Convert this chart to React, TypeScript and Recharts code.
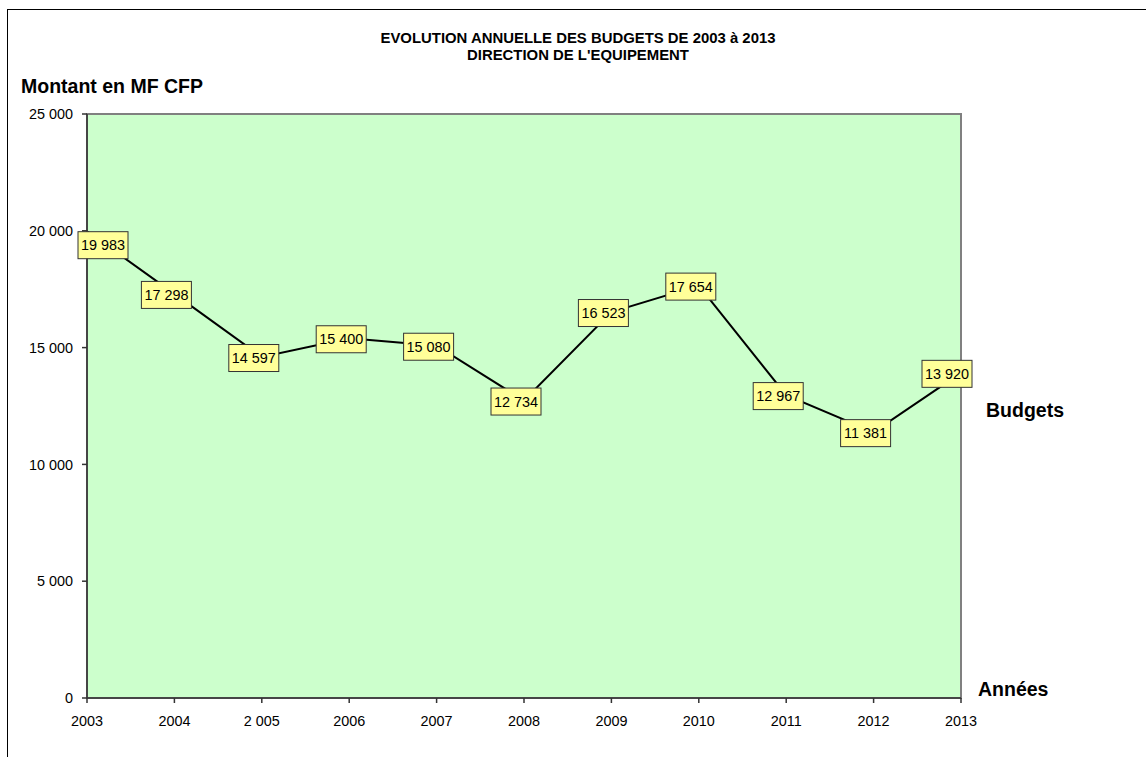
import {
  CartesianGrid,
  LabelList,
  Line,
  LineChart,
  ReferenceArea,
  XAxis,
  YAxis,
} from "recharts";

const years = ["2003", "2004", "2 005", "2006", "2007", "2008", "2009", "2010", "2011", "2012", "2013"];
const budgets = [19983, 17298, 14597, 15400, 15080, 12734, 16523, 17654, 12967, 11381, 13920];
const yTicks = [0, 5000, 10000, 15000, 20000, 25000];

const data = years.map((year, i) => ({ year, budget: budgets[i] }));

const FONT = '"Liberation Sans", Arial, sans-serif';

const fmt = (v: number) => String(v).replace(/\B(?=(\d{3})+(?!\d))/g, " ");

// plot edges, the label boxes may overhang them a little
const PLOT_LEFT = 87;
const PLOT_RIGHT = 961;

function BudgetLabel(props: any) {
  const { x, y, value, index } = props;
  const w = 50;
  const h = 27;
  let bx = x - w / 2 - 8;
  bx = Math.max(PLOT_LEFT - 9, Math.min(bx, PLOT_RIGHT + 11 - w));
  const by = y - h / 2 + 1 + (index === 0 ? 13 : 0);
  return (
    <g>
      <rect x={bx} y={by} width={w} height={h} fill="#FFFF99" stroke="#333" strokeWidth={1} />
      <text
        x={bx + w / 2}
        y={by + h / 2}
        textAnchor="middle"
        dominantBaseline="central"
        fontSize={14.4}
        fontFamily={FONT}
        fill="#000"
      >
        {fmt(value)}
      </text>
    </g>
  );
}

const abs = (left: number, top: number, size: number, bold = true) => ({
  position: "absolute" as const,
  left,
  top,
  fontSize: size,
  fontWeight: bold ? 700 : 400,
  fontFamily: FONT,
  lineHeight: 1,
  whiteSpace: "nowrap" as const,
  color: "#000",
});

export default function App() {
  return (
    <div
      style={{
        position: "absolute",
        left: 0,
        top: 0,
        width: 1146,
        height: 757,
        overflow: "hidden",
        background: "#fff",
        fontFamily: FONT,
      }}
    >
      <div
        style={{
          position: "absolute",
          left: 7,
          top: 9,
          width: 1200,
          height: 800,
          border: "1px solid #000",
        }}
      />
      <div
        style={{
          position: "absolute",
          left: 278,
          width: 600,
          top: 30,
          textAlign: "center",
          fontSize: 14.9,
          fontWeight: 700,
          lineHeight: "17px",
          fontFamily: FONT,
        }}
      >
        EVOLUTION ANNUELLE DES BUDGETS DE 2003 à 2013
        <br />
        DIRECTION DE L'EQUIPEMENT
      </div>
      <div style={abs(21, 77, 19.5)}>Montant en MF CFP</div>
      <div style={abs(986, 401, 19.5)}>Budgets</div>
      <div style={abs(978, 680, 19.5)}>Années</div>

      <LineChart
        width={1146}
        height={757}
        data={data}
        margin={{ top: 114, right: 1146 - PLOT_RIGHT, left: 27, bottom: 29 }}
        style={{ position: "absolute", left: 0, top: 0 }}
      >
        <CartesianGrid fill="#CCFFCC" fillOpacity={1} stroke="none" />
        <ReferenceArea
          x1="2003"
          x2="2013"
          y1={0}
          y2={25000}
          fill="none"
          stroke="#808080"
          strokeWidth={2}
          ifOverflow="visible"
        />
        <XAxis
          dataKey="year"
          height={30}
          stroke="#333"
          strokeWidth={1.5}
          tickSize={5}
          tickMargin={13}
          tick={{ fill: "#000", fontSize: 14.4, fontFamily: FONT }}
          interval={0}
        />
        <YAxis
          width={60}
          domain={[0, 25000]}
          ticks={yTicks}
          stroke="#333"
          strokeWidth={1.5}
          tickSize={5}
          tickMargin={9}
          tickFormatter={fmt}
          tick={{ fill: "#000", fontSize: 14.4, fontFamily: FONT }}
        />
        <Line
          type="linear"
          dataKey="budget"
          stroke="#000"
          strokeWidth={2}
          dot={false}
          isAnimationActive={false}
        >
          <LabelList dataKey="budget" content={BudgetLabel} />
        </Line>
      </LineChart>
    </div>
  );
}
